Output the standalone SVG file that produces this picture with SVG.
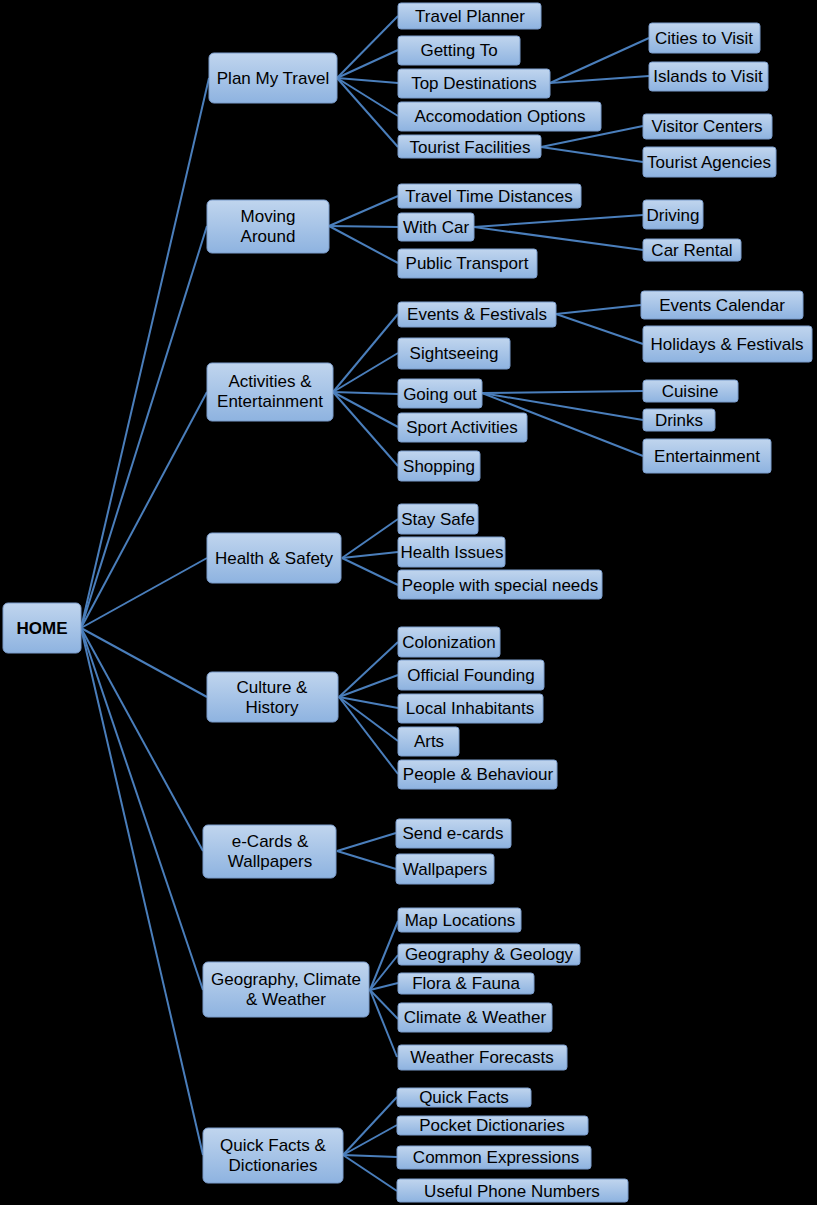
<svg xmlns="http://www.w3.org/2000/svg" width="817" height="1205" viewBox="0 0 817 1205">
<defs>
<linearGradient id="g" x1="0" y1="0" x2="0" y2="1">
<stop offset="0" stop-color="#c0d5ee"/>
<stop offset="1" stop-color="#8eb3e0"/>
</linearGradient>
<style>
.b{fill:url(#g);stroke:#7b9ccb;stroke-width:1}
.t{font-family:"Liberation Sans",Arial,sans-serif;font-size:17px;fill:#000;text-anchor:middle}
.h{font-weight:bold}
#connectors line{stroke:#4a7ebb;stroke-width:2;fill:none}
</style>
</defs>
<rect x="0" y="0" width="817" height="1205" fill="#000"/>
<g id="connectors">
<line x1="81" y1="628" x2="209" y2="78"/>
<line x1="81" y1="628" x2="207" y2="226"/>
<line x1="81" y1="628" x2="207" y2="392"/>
<line x1="81" y1="628" x2="207" y2="558"/>
<line x1="81" y1="628" x2="207" y2="697"/>
<line x1="81" y1="628" x2="203" y2="851"/>
<line x1="81" y1="628" x2="203" y2="990"/>
<line x1="81" y1="628" x2="203" y2="1155"/>
<line x1="337" y1="78" x2="398" y2="16"/>
<line x1="337" y1="78" x2="398" y2="50"/>
<line x1="337" y1="78" x2="398" y2="83"/>
<line x1="337" y1="78" x2="398" y2="116"/>
<line x1="337" y1="78" x2="398" y2="147"/>
<line x1="550" y1="83" x2="649" y2="38"/>
<line x1="550" y1="83" x2="649" y2="76"/>
<line x1="541" y1="147" x2="643" y2="126"/>
<line x1="541" y1="147" x2="643" y2="162"/>
<line x1="329" y1="226" x2="398" y2="196"/>
<line x1="329" y1="226" x2="398" y2="227"/>
<line x1="329" y1="226" x2="398" y2="263"/>
<line x1="474" y1="227" x2="643" y2="215"/>
<line x1="474" y1="227" x2="643" y2="250"/>
<line x1="333" y1="392" x2="398" y2="314"/>
<line x1="333" y1="392" x2="398" y2="353"/>
<line x1="333" y1="392" x2="398" y2="394"/>
<line x1="333" y1="392" x2="398" y2="427"/>
<line x1="333" y1="392" x2="398" y2="466"/>
<line x1="556" y1="314" x2="641" y2="305"/>
<line x1="556" y1="314" x2="643" y2="344"/>
<line x1="482" y1="393" x2="643" y2="391"/>
<line x1="482" y1="393" x2="643" y2="420"/>
<line x1="482" y1="393" x2="643" y2="456"/>
<line x1="342" y1="558" x2="398" y2="519"/>
<line x1="342" y1="558" x2="398" y2="552"/>
<line x1="342" y1="558" x2="398" y2="585"/>
<line x1="339" y1="697" x2="398" y2="642"/>
<line x1="339" y1="697" x2="398" y2="675"/>
<line x1="339" y1="697" x2="398" y2="708"/>
<line x1="339" y1="697" x2="398" y2="741"/>
<line x1="339" y1="697" x2="398" y2="774"/>
<line x1="337" y1="851" x2="396" y2="833"/>
<line x1="337" y1="851" x2="396" y2="869"/>
<line x1="370" y1="990" x2="398" y2="921"/>
<line x1="370" y1="990" x2="398" y2="955"/>
<line x1="370" y1="990" x2="398" y2="983"/>
<line x1="370" y1="990" x2="398" y2="1019"/>
<line x1="370" y1="990" x2="397" y2="1057"/>
<line x1="343" y1="1155" x2="397" y2="1097"/>
<line x1="343" y1="1155" x2="397" y2="1125"/>
<line x1="343" y1="1155" x2="397" y2="1157"/>
<line x1="343" y1="1155" x2="397" y2="1191"/>
</g>
<g id="home"><rect class="b" x="3" y="603" width="78" height="50" rx="5"/><text class="t h" x="42" y="634">HOME</text></g>
<g id="plan"><rect class="b" x="209" y="53" width="128" height="50" rx="5"/><text class="t" x="273" y="84">Plan My Travel</text></g>
<g id="moving"><rect class="b" x="207" y="200" width="122" height="53" rx="5"/><text class="t" x="268" y="222">Moving</text><text class="t" x="268" y="242">Around</text></g>
<g id="activities"><rect class="b" x="207" y="363" width="126" height="58" rx="5"/><text class="t" x="270" y="387">Activities &amp;</text><text class="t" x="270" y="407">Entertainment</text></g>
<g id="health"><rect class="b" x="207" y="533" width="134" height="50" rx="5"/><text class="t" x="274" y="564">Health &amp; Safety</text></g>
<g id="culture"><rect class="b" x="207" y="672" width="131" height="50" rx="5"/><text class="t" x="272" y="693">Culture &amp;</text><text class="t" x="272" y="713">History</text></g>
<g id="ecards"><rect class="b" x="203" y="825" width="133" height="53" rx="5"/><text class="t" x="270" y="847">e-Cards &amp;</text><text class="t" x="270" y="867">Wallpapers</text></g>
<g id="geography"><rect class="b" x="203" y="962" width="166" height="55" rx="5"/><text class="t" x="286" y="985">Geography, Climate</text><text class="t" x="286" y="1005">&amp; Weather</text></g>
<g id="quick"><rect class="b" x="203" y="1128" width="140" height="55" rx="5"/><text class="t" x="273" y="1151">Quick Facts &amp;</text><text class="t" x="273" y="1171">Dictionaries</text></g>
<g id="travel-planner"><rect class="b" x="398" y="3" width="143" height="26" rx="3"/><text class="t" x="470" y="22">Travel Planner</text></g>
<g id="getting-to"><rect class="b" x="398" y="36" width="122" height="29" rx="3"/><text class="t" x="459" y="56">Getting To</text></g>
<g id="top-destinations"><rect class="b" x="398" y="69" width="152" height="29" rx="3"/><text class="t" x="474" y="89">Top Destinations</text></g>
<g id="accomodation"><rect class="b" x="398" y="102" width="203" height="29" rx="3"/><text class="t" x="500" y="122">Accomodation Options</text></g>
<g id="tourist-facilities"><rect class="b" x="398" y="135" width="143" height="23" rx="3"/><text class="t" x="470" y="153">Tourist Facilities</text></g>
<g id="cities"><rect class="b" x="649" y="23" width="111" height="30" rx="3"/><text class="t" x="704" y="44">Cities to Visit</text></g>
<g id="islands"><rect class="b" x="649" y="62" width="119" height="29" rx="3"/><text class="t" x="708" y="82">Islands to Visit</text></g>
<g id="visitor-centers"><rect class="b" x="643" y="114" width="129" height="25" rx="3"/><text class="t" x="707" y="132">Visitor Centers</text></g>
<g id="tourist-agencies"><rect class="b" x="643" y="147" width="133" height="30" rx="3"/><text class="t" x="709" y="168">Tourist Agencies</text></g>
<g id="travel-time"><rect class="b" x="398" y="184" width="183" height="24" rx="3"/><text class="t" x="489" y="202">Travel Time Distances</text></g>
<g id="with-car"><rect class="b" x="398" y="213" width="76" height="28" rx="3"/><text class="t" x="436" y="233">With Car</text></g>
<g id="public-transport"><rect class="b" x="398" y="249" width="139" height="29" rx="3"/><text class="t" x="467" y="269">Public Transport</text></g>
<g id="driving"><rect class="b" x="643" y="200" width="60" height="29" rx="3"/><text class="t" x="673" y="221">Driving</text></g>
<g id="car-rental"><rect class="b" x="643" y="239" width="98" height="22" rx="3"/><text class="t" x="692" y="256">Car Rental</text></g>
<g id="events-festivals"><rect class="b" x="398" y="302" width="158" height="25" rx="3"/><text class="t" x="477" y="320">Events &amp; Festivals</text></g>
<g id="sightseeing"><rect class="b" x="398" y="338" width="112" height="31" rx="3"/><text class="t" x="454" y="359">Sightseeing</text></g>
<g id="going-out"><rect class="b" x="398" y="379" width="84" height="29" rx="3"/><text class="t" x="440" y="400">Going out</text></g>
<g id="sport"><rect class="b" x="398" y="413" width="129" height="29" rx="3"/><text class="t" x="462" y="433">Sport Activities</text></g>
<g id="shopping"><rect class="b" x="398" y="451" width="82" height="30" rx="3"/><text class="t" x="439" y="472">Shopping</text></g>
<g id="events-calendar"><rect class="b" x="641" y="291" width="162" height="28" rx="3"/><text class="t" x="722" y="311">Events Calendar</text></g>
<g id="holidays"><rect class="b" x="643" y="326" width="169" height="36" rx="3"/><text class="t" x="727" y="350">Holidays &amp; Festivals</text></g>
<g id="cuisine"><rect class="b" x="643" y="380" width="95" height="22" rx="3"/><text class="t" x="690" y="397">Cuisine</text></g>
<g id="drinks"><rect class="b" x="643" y="409" width="72" height="22" rx="3"/><text class="t" x="679" y="426">Drinks</text></g>
<g id="entertainment"><rect class="b" x="643" y="439" width="128" height="34" rx="3"/><text class="t" x="707" y="462">Entertainment</text></g>
<g id="stay-safe"><rect class="b" x="398" y="504" width="80" height="30" rx="3"/><text class="t" x="438" y="525">Stay Safe</text></g>
<g id="health-issues"><rect class="b" x="398" y="537" width="107" height="30" rx="3"/><text class="t" x="452" y="558">Health  Issues</text></g>
<g id="special-needs"><rect class="b" x="398" y="570" width="204" height="29" rx="3"/><text class="t" x="500" y="591">People with special needs</text></g>
<g id="colonization"><rect class="b" x="398" y="627" width="102" height="30" rx="3"/><text class="t" x="449" y="648">Colonization</text></g>
<g id="official-founding"><rect class="b" x="398" y="660" width="146" height="30" rx="3"/><text class="t" x="471" y="681">Official Founding</text></g>
<g id="local-inhabitants"><rect class="b" x="398" y="694" width="145" height="29" rx="3"/><text class="t" x="470" y="714">Local Inhabitants</text></g>
<g id="arts"><rect class="b" x="398" y="727" width="61" height="29" rx="3"/><text class="t" x="429" y="747">Arts</text></g>
<g id="people-behaviour"><rect class="b" x="398" y="760" width="159" height="29" rx="3"/><text class="t" x="478" y="780">People &amp; Behaviour</text></g>
<g id="send-ecards"><rect class="b" x="396" y="819" width="115" height="29" rx="3"/><text class="t" x="453" y="839">Send e-cards</text></g>
<g id="wallpapers"><rect class="b" x="396" y="854" width="98" height="30" rx="3"/><text class="t" x="445" y="875">Wallpapers</text></g>
<g id="map-locations"><rect class="b" x="398" y="908" width="123" height="24" rx="3"/><text class="t" x="460" y="926">Map Locations</text></g>
<g id="geo-geology"><rect class="b" x="398" y="944" width="182" height="21" rx="3"/><text class="t" x="489" y="960">Geography &amp; Geology</text></g>
<g id="flora-fauna"><rect class="b" x="398" y="973" width="136" height="21" rx="3"/><text class="t" x="466" y="989">Flora &amp; Fauna</text></g>
<g id="climate-weather"><rect class="b" x="398" y="1003" width="154" height="29" rx="3"/><text class="t" x="475" y="1023">Climate &amp; Weather</text></g>
<g id="weather-forecasts"><rect class="b" x="398" y="1045" width="169" height="25" rx="3"/><text class="t" x="482" y="1063">Weather Forecasts</text></g>
<g id="quick-facts"><rect class="b" x="397" y="1088" width="134" height="19" rx="3"/><text class="t" x="464" y="1103">Quick Facts</text></g>
<g id="pocket-dict"><rect class="b" x="397" y="1116" width="191" height="19" rx="3"/><text class="t" x="492" y="1131">Pocket Dictionaries</text></g>
<g id="common-expr"><rect class="b" x="397" y="1146" width="194" height="23" rx="3"/><text class="t" x="496" y="1163">Common Expressions</text></g>
<g id="phone-numbers"><rect class="b" x="397" y="1179" width="231" height="23" rx="3"/><text class="t" x="512" y="1197">Useful Phone Numbers</text></g>
</svg>
